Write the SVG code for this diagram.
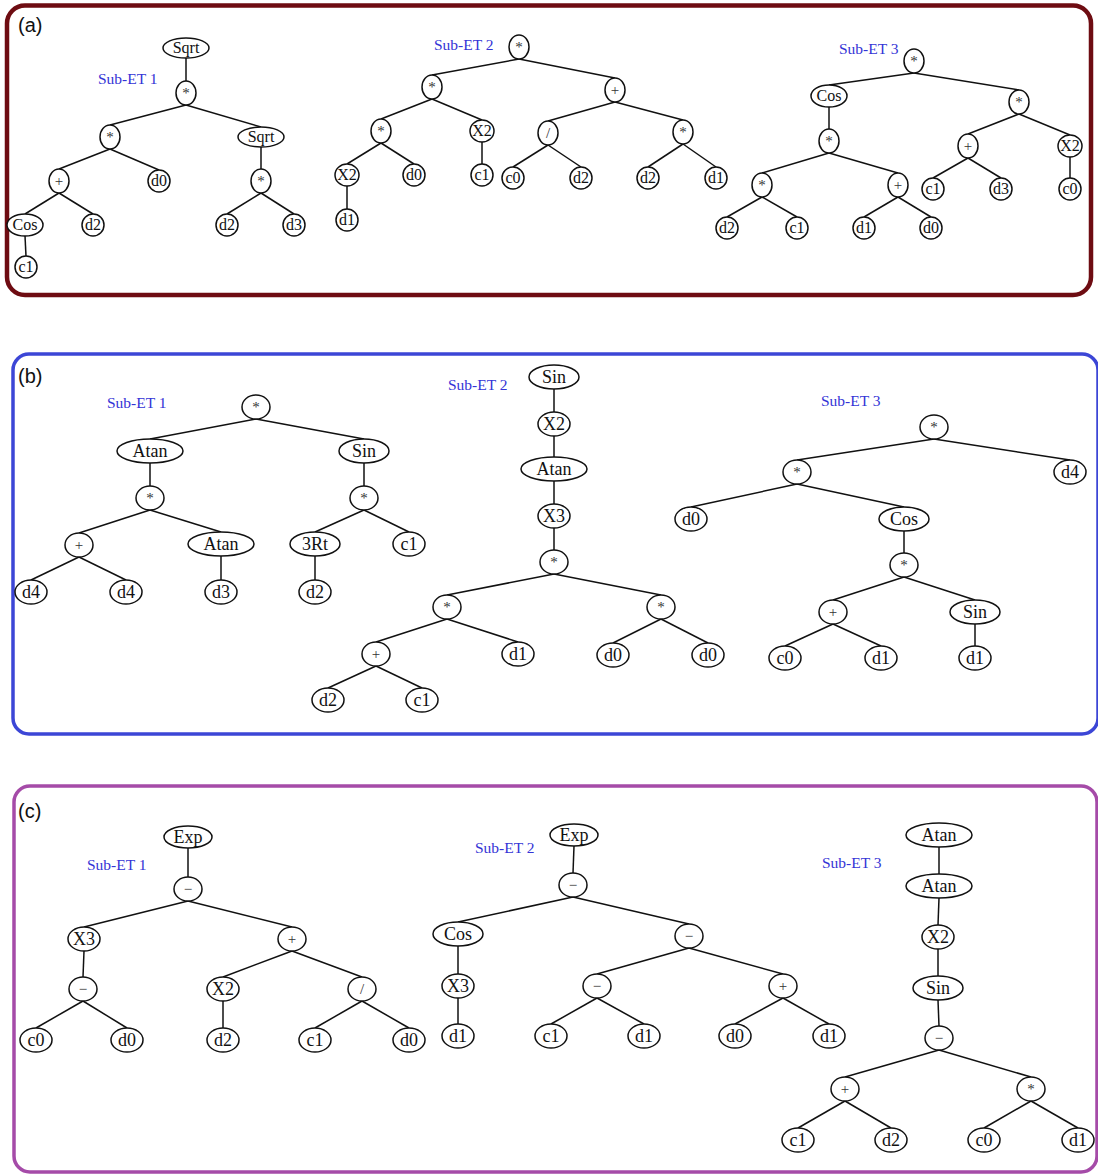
<svg xmlns="http://www.w3.org/2000/svg" width="1098" height="1175" viewBox="0 0 1098 1175">
<style>
.n ellipse{fill:#fff;stroke:#111;stroke-width:1.5}
.n text{font-family:"Liberation Serif","Times New Roman",serif;text-anchor:middle;fill:#111;font-size:18px}
.a text{font-size:16px}
.n text.op{font-size:15px;fill:#333}
#connectors line{stroke:#111;stroke-width:1.5}
.lbl{font-family:"Liberation Serif","Times New Roman",serif;font-size:15.5px;fill:#3434d6}
.pl{font-family:"Liberation Sans",Arial,sans-serif;font-size:20px;fill:#111}
.frame{fill:none}
</style>
<rect width="1098" height="1175" fill="#fff"/>
<g id="panels">
<rect class="frame" x="7" y="5.5" width="1084" height="289.5" rx="18" stroke="#6e0c12" stroke-width="4.5"/>
<rect class="frame" x="13" y="354" width="1085" height="380" rx="16" stroke="#3c46d6" stroke-width="3.5"/>
<rect class="frame" x="14" y="786" width="1083" height="386" rx="16" stroke="#a54ba8" stroke-width="3.5"/>
<text class="pl" x="18" y="32">(a)</text>
<text class="pl" x="18" y="383">(b)</text>
<text class="pl" x="18" y="818">(c)</text>
<text class="lbl" x="98" y="84">Sub-ET 1</text>
<text class="lbl" x="434" y="50">Sub-ET 2</text>
<text class="lbl" x="839" y="54">Sub-ET 3</text>
<text class="lbl" x="107" y="408">Sub-ET 1</text>
<text class="lbl" x="448" y="390">Sub-ET 2</text>
<text class="lbl" x="821" y="406">Sub-ET 3</text>
<text class="lbl" x="87" y="870">Sub-ET 1</text>
<text class="lbl" x="475" y="853">Sub-ET 2</text>
<text class="lbl" x="822" y="868">Sub-ET 3</text>
</g>
<g id="connectors">
<line x1="186" y1="58" x2="186" y2="81"/>
<line x1="186" y1="105" x2="110" y2="125"/>
<line x1="186" y1="105" x2="261" y2="127"/>
<line x1="110" y1="149" x2="59" y2="169"/>
<line x1="110" y1="149" x2="159" y2="170"/>
<line x1="261" y1="147" x2="261" y2="169"/>
<line x1="59" y1="193" x2="25" y2="214"/>
<line x1="59" y1="193" x2="93" y2="214"/>
<line x1="261" y1="193" x2="227" y2="214"/>
<line x1="261" y1="193" x2="294" y2="214"/>
<line x1="25" y1="236" x2="26" y2="256"/>
<line x1="519" y1="59" x2="432" y2="75"/>
<line x1="519" y1="59" x2="615" y2="78"/>
<line x1="432" y1="99" x2="381" y2="119"/>
<line x1="432" y1="99" x2="482" y2="120"/>
<line x1="615" y1="102" x2="548" y2="121"/>
<line x1="615" y1="102" x2="683" y2="120"/>
<line x1="381" y1="143" x2="347" y2="164"/>
<line x1="381" y1="143" x2="414" y2="164"/>
<line x1="482" y1="142" x2="482" y2="164"/>
<line x1="548" y1="145" x2="513" y2="167"/>
<line x1="548" y1="145" x2="581" y2="167"/>
<line x1="683" y1="144" x2="648" y2="167"/>
<line x1="683" y1="144" x2="716" y2="167"/>
<line x1="347" y1="186" x2="347" y2="209"/>
<line x1="914" y1="73" x2="829" y2="85"/>
<line x1="914" y1="73" x2="1019" y2="90"/>
<line x1="829" y1="107" x2="829" y2="129"/>
<line x1="1019" y1="114" x2="968" y2="134"/>
<line x1="1019" y1="114" x2="1070" y2="135"/>
<line x1="829" y1="153" x2="762" y2="173"/>
<line x1="829" y1="153" x2="898" y2="173"/>
<line x1="968" y1="158" x2="933" y2="178"/>
<line x1="968" y1="158" x2="1001" y2="178"/>
<line x1="1070" y1="157" x2="1070" y2="178"/>
<line x1="762" y1="197" x2="727" y2="217"/>
<line x1="762" y1="197" x2="797" y2="217"/>
<line x1="898" y1="197" x2="864" y2="217"/>
<line x1="898" y1="197" x2="931" y2="217"/>
<line x1="256" y1="419" x2="150" y2="439"/>
<line x1="256" y1="419" x2="364" y2="439"/>
<line x1="150" y1="463" x2="150" y2="486"/>
<line x1="364" y1="463" x2="364" y2="486"/>
<line x1="150" y1="510" x2="79" y2="533"/>
<line x1="150" y1="510" x2="221" y2="532"/>
<line x1="364" y1="510" x2="315" y2="532"/>
<line x1="364" y1="510" x2="409" y2="532"/>
<line x1="79" y1="557" x2="31" y2="580"/>
<line x1="79" y1="557" x2="126" y2="580"/>
<line x1="221" y1="556" x2="221" y2="580"/>
<line x1="315" y1="556" x2="315" y2="580"/>
<line x1="554" y1="389" x2="554" y2="412"/>
<line x1="554" y1="436" x2="554" y2="457"/>
<line x1="554" y1="481" x2="554" y2="504"/>
<line x1="554" y1="528" x2="554" y2="550"/>
<line x1="554" y1="574" x2="447" y2="595"/>
<line x1="554" y1="574" x2="661" y2="595"/>
<line x1="447" y1="619" x2="376" y2="642"/>
<line x1="447" y1="619" x2="518" y2="642"/>
<line x1="661" y1="619" x2="613" y2="643"/>
<line x1="661" y1="619" x2="708" y2="643"/>
<line x1="376" y1="666" x2="328" y2="688"/>
<line x1="376" y1="666" x2="422" y2="688"/>
<line x1="934" y1="439" x2="797" y2="460"/>
<line x1="934" y1="439" x2="1070" y2="460"/>
<line x1="797" y1="484" x2="691" y2="507"/>
<line x1="797" y1="484" x2="904" y2="507"/>
<line x1="904" y1="531" x2="904" y2="553"/>
<line x1="904" y1="577" x2="833" y2="600"/>
<line x1="904" y1="577" x2="975" y2="600"/>
<line x1="833" y1="624" x2="785" y2="646"/>
<line x1="833" y1="624" x2="881" y2="646"/>
<line x1="975" y1="624" x2="975" y2="646"/>
<line x1="188" y1="848" x2="188" y2="877"/>
<line x1="188" y1="901" x2="84" y2="927"/>
<line x1="188" y1="901" x2="292" y2="927"/>
<line x1="84" y1="951" x2="83" y2="977"/>
<line x1="292" y1="951" x2="223" y2="977"/>
<line x1="292" y1="951" x2="362" y2="977"/>
<line x1="83" y1="1001" x2="36" y2="1028"/>
<line x1="83" y1="1001" x2="127" y2="1028"/>
<line x1="223" y1="1001" x2="223" y2="1028"/>
<line x1="362" y1="1001" x2="315" y2="1028"/>
<line x1="362" y1="1001" x2="409" y2="1028"/>
<line x1="574" y1="846" x2="573" y2="873"/>
<line x1="573" y1="897" x2="458" y2="922"/>
<line x1="573" y1="897" x2="689" y2="924"/>
<line x1="458" y1="946" x2="458" y2="974"/>
<line x1="689" y1="948" x2="597" y2="974"/>
<line x1="689" y1="948" x2="783" y2="974"/>
<line x1="458" y1="998" x2="458" y2="1024"/>
<line x1="597" y1="998" x2="551" y2="1024"/>
<line x1="597" y1="998" x2="644" y2="1024"/>
<line x1="783" y1="998" x2="735" y2="1024"/>
<line x1="783" y1="998" x2="829" y2="1024"/>
<line x1="939" y1="847" x2="939" y2="874"/>
<line x1="939" y1="898" x2="938" y2="925"/>
<line x1="938" y1="949" x2="938" y2="976"/>
<line x1="938" y1="1000" x2="939" y2="1026"/>
<line x1="939" y1="1050" x2="845" y2="1077"/>
<line x1="939" y1="1050" x2="1031" y2="1077"/>
<line x1="845" y1="1101" x2="798" y2="1128"/>
<line x1="845" y1="1101" x2="891" y2="1128"/>
<line x1="1031" y1="1101" x2="984" y2="1128"/>
<line x1="1031" y1="1101" x2="1078" y2="1128"/>
</g>
<g id="a1-n1" class="n a"><ellipse cx="186" cy="48" rx="23" ry="10"/><text x="186" y="53">Sqrt</text></g>
<g id="a1-n2" class="n a"><ellipse cx="186" cy="93" rx="10" ry="12"/><text class="op" x="186" y="98">*</text></g>
<g id="a1-n3" class="n a"><ellipse cx="110" cy="137" rx="10" ry="12"/><text class="op" x="110" y="142">*</text></g>
<g id="a1-n4" class="n a"><ellipse cx="261" cy="137" rx="23" ry="10"/><text x="261" y="142">Sqrt</text></g>
<g id="a1-n5" class="n a"><ellipse cx="59" cy="181" rx="10" ry="12"/><text class="op" x="59" y="186">+</text></g>
<g id="a1-n6" class="n a"><ellipse cx="159" cy="181" rx="11" ry="11"/><text x="159" y="186">d0</text></g>
<g id="a1-n7" class="n a"><ellipse cx="261" cy="181" rx="10" ry="12"/><text class="op" x="261" y="186">*</text></g>
<g id="a1-n8" class="n a"><ellipse cx="25" cy="225" rx="18" ry="11"/><text x="25" y="230">Cos</text></g>
<g id="a1-n9" class="n a"><ellipse cx="93" cy="225" rx="11" ry="11"/><text x="93" y="230">d2</text></g>
<g id="a1-n10" class="n a"><ellipse cx="227" cy="225" rx="11" ry="11"/><text x="227" y="230">d2</text></g>
<g id="a1-n11" class="n a"><ellipse cx="294" cy="225" rx="11" ry="11"/><text x="294" y="230">d3</text></g>
<g id="a1-n12" class="n a"><ellipse cx="26" cy="267" rx="11" ry="11"/><text x="26" y="272">c1</text></g>
<g id="a2-n1" class="n a"><ellipse cx="519" cy="47" rx="10" ry="12"/><text class="op" x="519" y="52">*</text></g>
<g id="a2-n2" class="n a"><ellipse cx="432" cy="87" rx="10" ry="12"/><text class="op" x="432" y="92">*</text></g>
<g id="a2-n3" class="n a"><ellipse cx="615" cy="90" rx="10" ry="12"/><text class="op" x="615" y="95">+</text></g>
<g id="a2-n4" class="n a"><ellipse cx="381" cy="131" rx="10" ry="12"/><text class="op" x="381" y="136">*</text></g>
<g id="a2-n5" class="n a"><ellipse cx="482" cy="131" rx="12" ry="11"/><text x="482" y="136">X2</text></g>
<g id="a2-n6" class="n a"><ellipse cx="548" cy="133" rx="10" ry="12"/><text class="op" x="548" y="138">/</text></g>
<g id="a2-n7" class="n a"><ellipse cx="683" cy="132" rx="10" ry="12"/><text class="op" x="683" y="137">*</text></g>
<g id="a2-n8" class="n a"><ellipse cx="347" cy="175" rx="12" ry="11"/><text x="347" y="180">X2</text></g>
<g id="a2-n9" class="n a"><ellipse cx="414" cy="175" rx="11" ry="11"/><text x="414" y="180">d0</text></g>
<g id="a2-n10" class="n a"><ellipse cx="482" cy="175" rx="11" ry="11"/><text x="482" y="180">c1</text></g>
<g id="a2-n11" class="n a"><ellipse cx="513" cy="178" rx="11" ry="11"/><text x="513" y="183">c0</text></g>
<g id="a2-n12" class="n a"><ellipse cx="581" cy="178" rx="11" ry="11"/><text x="581" y="183">d2</text></g>
<g id="a2-n13" class="n a"><ellipse cx="648" cy="178" rx="11" ry="11"/><text x="648" y="183">d2</text></g>
<g id="a2-n14" class="n a"><ellipse cx="716" cy="178" rx="11" ry="11"/><text x="716" y="183">d1</text></g>
<g id="a2-n15" class="n a"><ellipse cx="347" cy="220" rx="11" ry="11"/><text x="347" y="225">d1</text></g>
<g id="a3-n1" class="n a"><ellipse cx="914" cy="61" rx="10" ry="12"/><text class="op" x="914" y="66">*</text></g>
<g id="a3-n2" class="n a"><ellipse cx="829" cy="96" rx="18" ry="11"/><text x="829" y="101">Cos</text></g>
<g id="a3-n3" class="n a"><ellipse cx="1019" cy="102" rx="10" ry="12"/><text class="op" x="1019" y="107">*</text></g>
<g id="a3-n4" class="n a"><ellipse cx="829" cy="141" rx="10" ry="12"/><text class="op" x="829" y="146">*</text></g>
<g id="a3-n5" class="n a"><ellipse cx="968" cy="146" rx="10" ry="12"/><text class="op" x="968" y="151">+</text></g>
<g id="a3-n6" class="n a"><ellipse cx="1070" cy="146" rx="12" ry="11"/><text x="1070" y="151">X2</text></g>
<g id="a3-n7" class="n a"><ellipse cx="762" cy="185" rx="10" ry="12"/><text class="op" x="762" y="190">*</text></g>
<g id="a3-n8" class="n a"><ellipse cx="898" cy="185" rx="10" ry="12"/><text class="op" x="898" y="190">+</text></g>
<g id="a3-n9" class="n a"><ellipse cx="933" cy="189" rx="11" ry="11"/><text x="933" y="194">c1</text></g>
<g id="a3-n10" class="n a"><ellipse cx="1001" cy="189" rx="11" ry="11"/><text x="1001" y="194">d3</text></g>
<g id="a3-n11" class="n a"><ellipse cx="1070" cy="189" rx="11" ry="11"/><text x="1070" y="194">c0</text></g>
<g id="a3-n12" class="n a"><ellipse cx="727" cy="228" rx="11" ry="11"/><text x="727" y="233">d2</text></g>
<g id="a3-n13" class="n a"><ellipse cx="797" cy="228" rx="11" ry="11"/><text x="797" y="233">c1</text></g>
<g id="a3-n14" class="n a"><ellipse cx="864" cy="228" rx="11" ry="11"/><text x="864" y="233">d1</text></g>
<g id="a3-n15" class="n a"><ellipse cx="931" cy="228" rx="11" ry="11"/><text x="931" y="233">d0</text></g>
<g id="b1-n1" class="n"><ellipse cx="256" cy="407" rx="14" ry="12"/><text class="op" x="256" y="412">*</text></g>
<g id="b1-n2" class="n"><ellipse cx="150" cy="451" rx="33" ry="12"/><text x="150" y="457">Atan</text></g>
<g id="b1-n3" class="n"><ellipse cx="364" cy="451" rx="25" ry="12"/><text x="364" y="457">Sin</text></g>
<g id="b1-n4" class="n"><ellipse cx="150" cy="498" rx="14" ry="12"/><text class="op" x="150" y="503">*</text></g>
<g id="b1-n5" class="n"><ellipse cx="364" cy="498" rx="14" ry="12"/><text class="op" x="364" y="503">*</text></g>
<g id="b1-n6" class="n"><ellipse cx="79" cy="545" rx="14" ry="12"/><text class="op" x="79" y="550">+</text></g>
<g id="b1-n7" class="n"><ellipse cx="221" cy="544" rx="33" ry="12"/><text x="221" y="550">Atan</text></g>
<g id="b1-n8" class="n"><ellipse cx="315" cy="544" rx="25" ry="12"/><text x="315" y="550">3Rt</text></g>
<g id="b1-n9" class="n"><ellipse cx="409" cy="544" rx="16" ry="12"/><text x="409" y="550">c1</text></g>
<g id="b1-n10" class="n"><ellipse cx="31" cy="592" rx="16" ry="12"/><text x="31" y="598">d4</text></g>
<g id="b1-n11" class="n"><ellipse cx="126" cy="592" rx="16" ry="12"/><text x="126" y="598">d4</text></g>
<g id="b1-n12" class="n"><ellipse cx="221" cy="592" rx="16" ry="12"/><text x="221" y="598">d3</text></g>
<g id="b1-n13" class="n"><ellipse cx="315" cy="592" rx="16" ry="12"/><text x="315" y="598">d2</text></g>
<g id="b2-n1" class="n"><ellipse cx="554" cy="377" rx="25" ry="12"/><text x="554" y="383">Sin</text></g>
<g id="b2-n2" class="n"><ellipse cx="554" cy="424" rx="16" ry="12"/><text x="554" y="430">X2</text></g>
<g id="b2-n3" class="n"><ellipse cx="554" cy="469" rx="33" ry="12"/><text x="554" y="475">Atan</text></g>
<g id="b2-n4" class="n"><ellipse cx="554" cy="516" rx="16" ry="12"/><text x="554" y="522">X3</text></g>
<g id="b2-n5" class="n"><ellipse cx="554" cy="562" rx="14" ry="12"/><text class="op" x="554" y="567">*</text></g>
<g id="b2-n6" class="n"><ellipse cx="447" cy="607" rx="14" ry="12"/><text class="op" x="447" y="612">*</text></g>
<g id="b2-n7" class="n"><ellipse cx="661" cy="607" rx="14" ry="12"/><text class="op" x="661" y="612">*</text></g>
<g id="b2-n8" class="n"><ellipse cx="376" cy="654" rx="14" ry="12"/><text class="op" x="376" y="659">+</text></g>
<g id="b2-n9" class="n"><ellipse cx="518" cy="654" rx="16" ry="12"/><text x="518" y="660">d1</text></g>
<g id="b2-n10" class="n"><ellipse cx="613" cy="655" rx="16" ry="12"/><text x="613" y="661">d0</text></g>
<g id="b2-n11" class="n"><ellipse cx="708" cy="655" rx="16" ry="12"/><text x="708" y="661">d0</text></g>
<g id="b2-n12" class="n"><ellipse cx="328" cy="700" rx="16" ry="12"/><text x="328" y="706">d2</text></g>
<g id="b2-n13" class="n"><ellipse cx="422" cy="700" rx="16" ry="12"/><text x="422" y="706">c1</text></g>
<g id="b3-n1" class="n"><ellipse cx="934" cy="427" rx="14" ry="12"/><text class="op" x="934" y="432">*</text></g>
<g id="b3-n2" class="n"><ellipse cx="797" cy="472" rx="14" ry="12"/><text class="op" x="797" y="477">*</text></g>
<g id="b3-n3" class="n"><ellipse cx="1070" cy="472" rx="16" ry="12"/><text x="1070" y="478">d4</text></g>
<g id="b3-n4" class="n"><ellipse cx="691" cy="519" rx="16" ry="12"/><text x="691" y="525">d0</text></g>
<g id="b3-n5" class="n"><ellipse cx="904" cy="519" rx="25" ry="12"/><text x="904" y="525">Cos</text></g>
<g id="b3-n6" class="n"><ellipse cx="904" cy="565" rx="14" ry="12"/><text class="op" x="904" y="570">*</text></g>
<g id="b3-n7" class="n"><ellipse cx="833" cy="612" rx="14" ry="12"/><text class="op" x="833" y="617">+</text></g>
<g id="b3-n8" class="n"><ellipse cx="975" cy="612" rx="25" ry="12"/><text x="975" y="618">Sin</text></g>
<g id="b3-n9" class="n"><ellipse cx="785" cy="658" rx="16" ry="12"/><text x="785" y="664">c0</text></g>
<g id="b3-n10" class="n"><ellipse cx="881" cy="658" rx="16" ry="12"/><text x="881" y="664">d1</text></g>
<g id="b3-n11" class="n"><ellipse cx="975" cy="658" rx="16" ry="12"/><text x="975" y="664">d1</text></g>
<g id="c1-n1" class="n"><ellipse cx="188" cy="837" rx="24" ry="11"/><text x="188" y="843">Exp</text></g>
<g id="c1-n2" class="n"><ellipse cx="188" cy="889" rx="14" ry="12"/><text class="op" x="188" y="894">−</text></g>
<g id="c1-n3" class="n"><ellipse cx="84" cy="939" rx="16" ry="12"/><text x="84" y="945">X3</text></g>
<g id="c1-n4" class="n"><ellipse cx="292" cy="939" rx="14" ry="12"/><text class="op" x="292" y="944">+</text></g>
<g id="c1-n5" class="n"><ellipse cx="83" cy="989" rx="14" ry="12"/><text class="op" x="83" y="994">−</text></g>
<g id="c1-n6" class="n"><ellipse cx="223" cy="989" rx="16" ry="12"/><text x="223" y="995">X2</text></g>
<g id="c1-n7" class="n"><ellipse cx="362" cy="989" rx="14" ry="12"/><text class="op" x="362" y="994">/</text></g>
<g id="c1-n8" class="n"><ellipse cx="36" cy="1040" rx="16" ry="12"/><text x="36" y="1046">c0</text></g>
<g id="c1-n9" class="n"><ellipse cx="127" cy="1040" rx="16" ry="12"/><text x="127" y="1046">d0</text></g>
<g id="c1-n10" class="n"><ellipse cx="223" cy="1040" rx="16" ry="12"/><text x="223" y="1046">d2</text></g>
<g id="c1-n11" class="n"><ellipse cx="315" cy="1040" rx="16" ry="12"/><text x="315" y="1046">c1</text></g>
<g id="c1-n12" class="n"><ellipse cx="409" cy="1040" rx="16" ry="12"/><text x="409" y="1046">d0</text></g>
<g id="c2-n1" class="n"><ellipse cx="574" cy="835" rx="24" ry="11"/><text x="574" y="841">Exp</text></g>
<g id="c2-n2" class="n"><ellipse cx="573" cy="885" rx="14" ry="12"/><text class="op" x="573" y="890">−</text></g>
<g id="c2-n3" class="n"><ellipse cx="458" cy="934" rx="25" ry="12"/><text x="458" y="940">Cos</text></g>
<g id="c2-n4" class="n"><ellipse cx="689" cy="936" rx="14" ry="12"/><text class="op" x="689" y="941">−</text></g>
<g id="c2-n5" class="n"><ellipse cx="458" cy="986" rx="16" ry="12"/><text x="458" y="992">X3</text></g>
<g id="c2-n6" class="n"><ellipse cx="597" cy="986" rx="14" ry="12"/><text class="op" x="597" y="991">−</text></g>
<g id="c2-n7" class="n"><ellipse cx="783" cy="986" rx="14" ry="12"/><text class="op" x="783" y="991">+</text></g>
<g id="c2-n8" class="n"><ellipse cx="458" cy="1036" rx="16" ry="12"/><text x="458" y="1042">d1</text></g>
<g id="c2-n9" class="n"><ellipse cx="551" cy="1036" rx="16" ry="12"/><text x="551" y="1042">c1</text></g>
<g id="c2-n10" class="n"><ellipse cx="644" cy="1036" rx="16" ry="12"/><text x="644" y="1042">d1</text></g>
<g id="c2-n11" class="n"><ellipse cx="735" cy="1036" rx="16" ry="12"/><text x="735" y="1042">d0</text></g>
<g id="c2-n12" class="n"><ellipse cx="829" cy="1036" rx="16" ry="12"/><text x="829" y="1042">d1</text></g>
<g id="c3-n1" class="n"><ellipse cx="939" cy="835" rx="33" ry="12"/><text x="939" y="841">Atan</text></g>
<g id="c3-n2" class="n"><ellipse cx="939" cy="886" rx="33" ry="12"/><text x="939" y="892">Atan</text></g>
<g id="c3-n3" class="n"><ellipse cx="938" cy="937" rx="16" ry="12"/><text x="938" y="943">X2</text></g>
<g id="c3-n4" class="n"><ellipse cx="938" cy="988" rx="25" ry="12"/><text x="938" y="994">Sin</text></g>
<g id="c3-n5" class="n"><ellipse cx="939" cy="1038" rx="14" ry="12"/><text class="op" x="939" y="1043">−</text></g>
<g id="c3-n6" class="n"><ellipse cx="845" cy="1089" rx="14" ry="12"/><text class="op" x="845" y="1094">+</text></g>
<g id="c3-n7" class="n"><ellipse cx="1031" cy="1089" rx="14" ry="12"/><text class="op" x="1031" y="1094">*</text></g>
<g id="c3-n8" class="n"><ellipse cx="798" cy="1140" rx="16" ry="12"/><text x="798" y="1146">c1</text></g>
<g id="c3-n9" class="n"><ellipse cx="891" cy="1140" rx="16" ry="12"/><text x="891" y="1146">d2</text></g>
<g id="c3-n10" class="n"><ellipse cx="984" cy="1140" rx="16" ry="12"/><text x="984" y="1146">c0</text></g>
<g id="c3-n11" class="n"><ellipse cx="1078" cy="1140" rx="16" ry="12"/><text x="1078" y="1146">d1</text></g>
</svg>
